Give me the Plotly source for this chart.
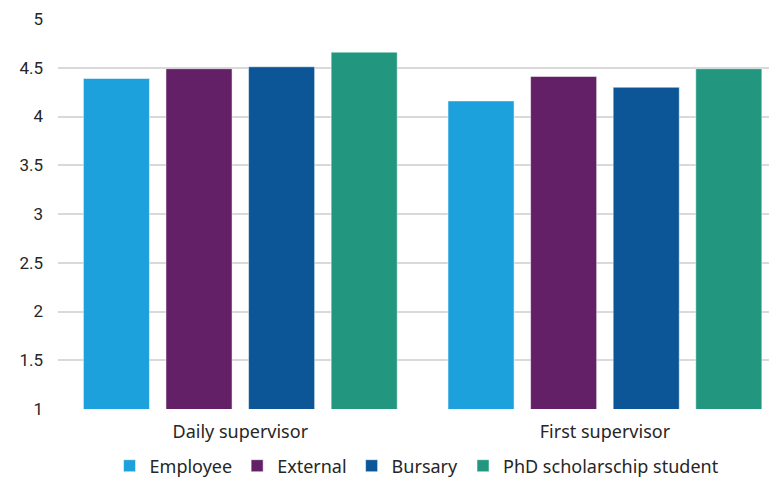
import plotly.graph_objects as go

# Mean supervision ratings by funding type
categories = ["Daily supervisor", "First supervisor"]
series_names = ["Employee", "External", "Bursary", "PhD scholarschip student"]
employee = [4.39, 4.16]
external = [4.49, 4.41]
bursary = [4.51, 4.30]
phd_student = [4.66, 4.49]
y_ticks = [1, 1.5, 2, 2.5, 3, 3.5, 4, 4.5, 5]

colors = ["#1DA1DC", "#632066", "#0C5596", "#22967F"]
values = [employee, external, bursary, phd_student]

fig = go.Figure()
for name, vals, col in zip(series_names, values, colors):
    fig.add_trace(go.Bar(
        name=name, x=categories, y=vals, base=0,
        marker=dict(color=col, line=dict(color="rgba(255,255,255,0.5)", width=1)),
    ))

text_font = "'Noto Sans', Lato, sans-serif"
num_font = "Roboto, sans-serif"
fig.update_layout(
    width=769, height=481,
    margin=dict(l=58, r=0, t=19, b=72, autoexpand=False),
    paper_bgcolor="white", plot_bgcolor="white",
    barmode="group", bargap=0.094, bargroupgap=0.2,
    font=dict(family=text_font, size=18, color="#262626"),
    showlegend=True,
    legend=dict(orientation="h", x=0.505, xanchor="center",
                yref="container", y=15 / 481, yanchor="middle",
                font=dict(family=text_font, size=18, color="#262626"),
                itemwidth=30, traceorder="normal", tracegroupgap=0),
    xaxis=dict(range=[-0.5, 1.45], showgrid=False, showline=False, ticks="",
               tickfont=dict(family=text_font, size=18), ticklabelstandoff=10),
    yaxis=dict(range=[1, 5], tickvals=y_ticks, ticktext=[f"{v:g}" for v in y_ticks],
               showgrid=True, gridcolor="#D9D9D9", gridwidth=1.5,
               zeroline=False, showline=False, ticks="",
               tickfont=dict(family=num_font, size=17), ticklabelstandoff=14),
)

fig.write_html("out.html")
